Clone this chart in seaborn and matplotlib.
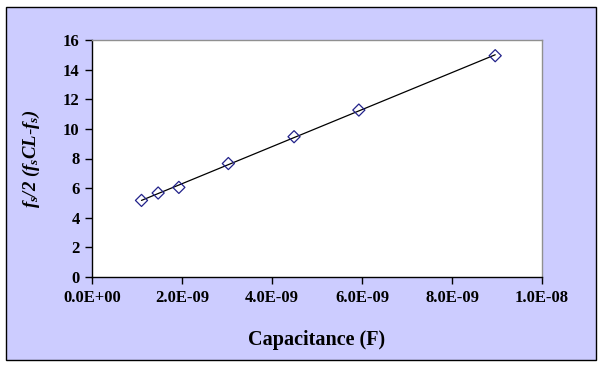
import matplotlib
matplotlib.use("Agg")
import matplotlib.pyplot as plt
import seaborn as sns
import pandas as pd
from matplotlib.patches import Rectangle

# Data
capacitance = [1.10e-9, 1.47e-9, 1.93e-9, 3.03e-9, 4.49e-9, 5.93e-9, 8.96e-9]
ratio = [5.17, 5.67, 6.05, 7.66, 9.47, 11.27, 14.94]
xtick_values = [0, 2e-9, 4e-9, 6e-9, 8e-9, 1e-8]
xtick_labels = ["0.0E+00", "2.0E-09", "4.0E-09", "6.0E-09", "8.0E-09", "1.0E-08"]
ytick_values = [0, 2, 4, 6, 8, 10, 12, 14, 16]

df = pd.DataFrame({"C": capacitance, "R": ratio})

sns.set_theme(style="white")
plt.rcParams["font.family"] = ["Liberation Serif", "DejaVu Serif"]
plt.rcParams["text.color"] = "black"
plt.rcParams["axes.labelcolor"] = "black"
plt.rcParams["xtick.color"] = "black"
plt.rcParams["ytick.color"] = "black"
plt.rcParams["mathtext.fontset"] = "custom"
plt.rcParams["mathtext.it"] = "Liberation Serif:bold:italic"
plt.rcParams["mathtext.rm"] = "Liberation Serif:bold:italic"
plt.rcParams["mathtext.bf"] = "Liberation Serif:bold:italic"

fig = plt.figure(figsize=(6.03, 3.68), dpi=100, facecolor="white")
bg = Rectangle((6 / 603, 1 - 360 / 368), 590 / 603, 353 / 368,
               transform=fig.transFigure, facecolor="#CCCCFF",
               edgecolor="black", linewidth=1.0, zorder=-10)
fig.add_artist(bg)

ax = fig.add_axes([92 / 603, 1 - 277 / 368, 450 / 603, 237 / 368])
ax.set_zorder(1)
ax.set_facecolor("white")

sns.regplot(data=df, x="C", y="R", ax=ax, ci=None, scatter=False, truncate=True,
            line_kws={"color": "black", "linewidth": 0.9})
sns.scatterplot(data=df, x="C", y="R", ax=ax, marker="D", s=38,
                facecolor="none", edgecolor="#22228a", linewidth=0.9, zorder=3)

ax.set_xlim(0, 1e-8)
ax.set_ylim(0, 16)
ax.set_xticks(xtick_values)
ax.set_xticklabels(xtick_labels)
ax.set_yticks(ytick_values)
ax.set_yticklabels([str(v) for v in ytick_values])
ax.tick_params(axis="both", direction="out", length=5, width=1, colors="black",
               labelsize=12, pad=4, bottom=True, left=True)
for lab in ax.get_xticklabels() + ax.get_yticklabels():
    lab.set_fontweight("bold")

for side in ["left", "bottom"]:
    ax.spines[side].set_color("black")
    ax.spines[side].set_linewidth(1)
for side in ["top", "right"]:
    ax.spines[side].set_color("#909090")
    ax.spines[side].set_linewidth(1)

ax.set_xlabel("Capacitance (F)", fontsize=14.5, fontweight="bold", labelpad=18,
              color="black")
ax.set_ylabel(r"$f_s/2\ (f_sCL$-$f_s)$", fontsize=13.5, labelpad=15, color="black")

fig.savefig("out.png", dpi=100, facecolor="white")
